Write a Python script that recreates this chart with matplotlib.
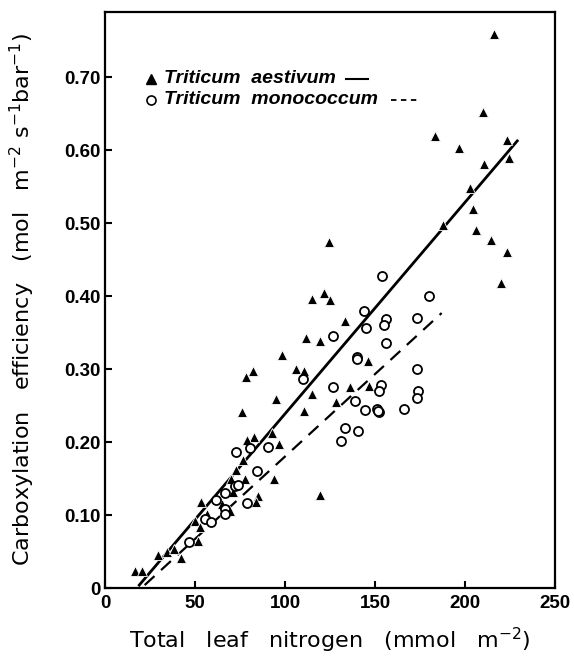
import matplotlib
matplotlib.use('Agg')
import matplotlib.pyplot as plt
import numpy as np

# Triticum aestivum (filled triangles)
aestivum_n = [216.1, 210.0, 183.3, 196.7, 223.2, 224.6, 210.6, 202.8, 204.3, 188.0,
              206.0, 214.6, 223.3, 219.8, 124.4, 115.0, 121.4, 124.7, 133.5, 111.9,
              119.6, 98.4, 106.1, 110.3, 146.0, 115.2, 95.2, 136.0, 146.8, 128.3,
              110.8, 76.3, 82.4, 78.2, 92.8, 82.8, 79.0, 96.8, 76.8, 72.8,
              93.7, 77.9, 69.7, 119.2, 84.7, 83.6, 53.4, 56.5, 69.6, 65.2,
              50.2, 52.8, 51.8, 42.0, 34.3, 29.6, 38.3, 16.8, 20.6, 71.3]
aestivum_ce = [0.759, 0.652, 0.620, 0.603, 0.614, 0.589, 0.581, 0.548, 0.520, 0.498,
               0.491, 0.477, 0.461, 0.418, 0.474, 0.396, 0.405, 0.395, 0.366, 0.343,
               0.338, 0.320, 0.300, 0.298, 0.311, 0.266, 0.259, 0.276, 0.277, 0.255,
               0.243, 0.241, 0.297, 0.289, 0.212, 0.207, 0.203, 0.198, 0.175, 0.162,
               0.149, 0.149, 0.149, 0.127, 0.126, 0.118, 0.118, 0.102, 0.105, 0.115,
               0.092, 0.083, 0.065, 0.041, 0.050, 0.045, 0.053, 0.024, 0.024, 0.131]

# Triticum monococcum (open circles)
mono_n = [154.0, 180.0, 144.1, 156.1, 173.2, 155.0, 145.0, 126.4, 156.3, 139.8,
          139.8, 109.8, 173.2, 126.4, 153.3, 152.0, 173.9, 173.2, 138.9, 144.4,
          151.0, 152.2, 151.6, 166.0, 133.3, 140.6, 131.1, 72.8, 80.8, 90.6,
          84.3, 72.1, 74.0, 66.9, 61.8, 78.8, 66.8, 66.7, 55.3, 58.8, 46.8]
mono_ce = [0.428, 0.401, 0.380, 0.369, 0.370, 0.360, 0.357, 0.345, 0.336, 0.317,
           0.314, 0.287, 0.300, 0.275, 0.279, 0.270, 0.270, 0.261, 0.257, 0.244,
           0.245, 0.241, 0.243, 0.245, 0.219, 0.215, 0.201, 0.186, 0.192, 0.194,
           0.160, 0.140, 0.141, 0.130, 0.120, 0.117, 0.109, 0.101, 0.094, 0.091, 0.063]

# regression lines (end points)
aestivum_fit_n = [19, 229]
aestivum_fit_ce = [0.004, 0.613]
mono_fit_n = [22, 187]
mono_fit_ce = [0.004, 0.377]

x_ticks = [0, 50, 100, 150, 200, 250]
y_ticks = [0, 0.10, 0.20, 0.30, 0.40, 0.50, 0.60, 0.70]
y_tick_labels = ['0', '0.10', '0.20', '0.30', '0.40', '0.50', '0.60', '0.70']

plt.rcParams['font.family'] = ['Liberation Sans', 'DejaVu Sans']
plt.rcParams['mathtext.fontset'] = 'custom'
plt.rcParams['mathtext.rm'] = 'DejaVu Sans'

fig = plt.figure(figsize=(5.74, 6.57), dpi=100)
ax = fig.add_axes([0.183, 0.105, 0.784, 0.877])

ax.plot(aestivum_fit_n, aestivum_fit_ce, color='black', lw=2.0, zorder=2)
ax.plot(mono_fit_n, mono_fit_ce, color='black', lw=1.6, dashes=(6, 4), zorder=2)

ax.plot(aestivum_n, aestivum_ce, linestyle='none', marker='^', markersize=7,
        color='black', markeredgecolor='white', markeredgewidth=0.6, zorder=3)
ax.plot(mono_n, mono_ce, linestyle='none', marker='o', markersize=6.5,
        markerfacecolor='white', markeredgecolor='black', markeredgewidth=1.3, zorder=3)

ax.set_xlim(0, 250)
ax.set_ylim(0, 0.79)
ax.set_xticks(x_ticks)
ax.set_yticks(y_ticks)
ax.set_yticklabels(y_tick_labels)
ax.tick_params(direction='in', length=5, width=1.5, top=False, right=False,
               labelsize=13.5)
for lab in ax.get_xticklabels() + ax.get_yticklabels():
    lab.set_fontweight('bold')
ax.tick_params(axis='y', pad=3)
ax.tick_params(axis='x', pad=5)
for sp in ax.spines.values():
    sp.set_linewidth(1.6)

ax.set_xlabel('Total   leaf   nitrogen   (mmol   m$^{-2}$)', family='DejaVu Sans',
              fontsize=16, labelpad=10)
ax.set_ylabel('Carboxylation   efficiency   (mol   m$^{-2}$ s$^{-1}$bar$^{-1}$)',
              family='DejaVu Sans', fontsize=16, labelpad=20)

# legend drawn by hand
ax.plot([0.102], [0.884], marker='^', markersize=7.5, color='black',
        transform=ax.transAxes, clip_on=False)
ax.text(0.13, 0.884, 'Triticum  aestivum', style='italic', fontweight='bold',
        fontsize=14, va='center', transform=ax.transAxes)
ax.plot([0.535, 0.584], [0.884, 0.884], color='black', lw=1.5, transform=ax.transAxes)
ax.plot([0.102], [0.847], marker='o', markersize=6.5, markerfacecolor='white',
        markeredgecolor='black', markeredgewidth=1.2, transform=ax.transAxes)
ax.text(0.13, 0.847, 'Triticum  monococcum', style='italic', fontweight='bold',
        fontsize=14, va='center', transform=ax.transAxes)
ax.plot([0.635, 0.70], [0.847, 0.847], color='black', lw=1.3, dashes=(3, 2.5),
        transform=ax.transAxes)

fig.savefig('out.png', dpi=100)
